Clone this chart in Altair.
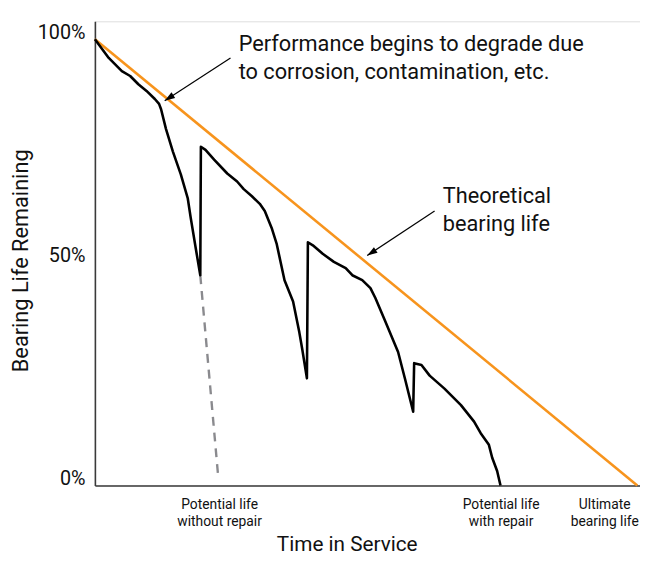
import math
import altair as alt
import pandas as pd

# ---------------- data ----------------
curve_x = [0, 2.55, 4.97, 6.5, 8.01, 9.52, 11.05, 11.83, 12.2, 13.1, 14.38, 15.84, 17.11, 17.66, 18.57, 19.43,
           19.54, 20.39, 21.98, 24.4, 26.22, 27.44, 28.95, 30.4, 31.32, 32.59, 33.5, 34.96, 36.54, 37.69, 38.23, 39.09,
           39.27, 40.18, 42.0, 44.06, 46.24, 47.46, 49.29, 50.8, 51.71, 53.53, 55.9, 57.17, 58.68,
           58.86, 60.21, 61.72, 64.45, 67.49, 69.91, 71.13, 72.64, 73.25, 74.16, 74.78]
curve_y = [100, 95.8, 92.85, 91.75, 89.9, 88.4, 86.6, 85.5, 84.3, 79.9, 74.8, 69.7, 64.4, 60.0, 53.3, 47.1,
           75.9, 75.2, 73.0, 69.9, 68.1, 66.4, 64.8, 63.1, 61.5, 57.7, 54.2, 46.0, 41.2, 34.3, 30.5, 24.0,
           54.5, 53.8, 51.9, 50.1, 48.7, 47.1, 46.0, 44.2, 42.0, 36.8, 29.9, 23.9, 16.5,
           27.4, 27.0, 24.6, 21.7, 18.0, 14.3, 11.7, 9.1, 6.2, 3.25, 0]

theory_x = [0, 100]
theory_y = [100, 0]

norepair_x = [19.43, 22.7]
norepair_y = [47.1, 2.4]

arrow_tail_x = [25.0, 62.63]
arrow_tail_y = [95.8, 61.5]
arrow_tip_x = [12.87, 50.2]
arrow_tip_y = [86.2, 51.5]

note_text = ["Performance begins to degrade due", "to corrosion, contamination, etc.",
             "Theoretical", "bearing life"]
note_x = [26.5, 26.5, 64.14, 64.14]
note_y = [97.3, 91.0, 63.3, 57.0]

x_tick_values = [22.9, 74.8, 93.9]
x_tick_labels = [["Potential life", "without repair"],
                 ["Potential life", "with repair"],
                 ["Ultimate", "bearing life"]]
y_tick_values = [0, 50, 100]

# ---------------- chart ----------------
FONT = "Roboto"
X_DOMAIN = [0, 100.5]
Y_DOMAIN = [0, 104]
W, H = 552, 470

xs = alt.Scale(domain=X_DOMAIN, nice=False, zero=False)
ys = alt.Scale(domain=Y_DOMAIN, nice=False, zero=False)

label_expr = " : ".join(
    f"datum.value < {v + 1} ? {lab!r}" for v, lab in zip(x_tick_values[:-1], x_tick_labels[:-1])
) + f" : {x_tick_labels[-1]!r}"

x_axis = alt.Axis(values=x_tick_values, labelExpr=label_expr, ticks=False, grid=False,
                  domainColor="#3a3a3a", domainWidth=1.6, labelFont=FONT, labelFontSize=14,
                  labelLineHeight=18, labelPadding=12, labelColor="#111", labelOverlap=False,
                  labelFlush=False, labelBound=False,
                  title="Time in Service", titleFont=FONT, titleFontSize=21, titleFontWeight="normal",
                  titleColor="#111", titleX=255, titleY=66, titleAlign="center",
                  titleBaseline="alphabetic")
y_axis = alt.Axis(values=y_tick_values, labelExpr="datum.value + '%'", ticks=False, grid=False,
                  domainColor="#3a3a3a", domainWidth=1.6, labelFont=FONT, labelFontSize=20,
                  labelPadding=10, labelOffset=-7, labelColor="#111",
                  title="Bearing Life Remaining", titleFont=FONT, titleFontSize=22,
                  titleFontWeight="normal", titleColor="#111", titleX=-75, titleY=242,
                  titleAlign="center", titleBaseline="middle", titleAngle=-90)

curve_df = pd.DataFrame({"x": curve_x, "y": curve_y, "o": range(len(curve_x))})
theory_df = pd.DataFrame({"x": theory_x, "y": theory_y})
norepair_df = pd.DataFrame({"x": norepair_x, "y": norepair_y})

px_x = W / (X_DOMAIN[1] - X_DOMAIN[0])
px_y = H / (Y_DOMAIN[1] - Y_DOMAIN[0])
angles = []
for tx, ty, hx, hy in zip(arrow_tail_x, arrow_tail_y, arrow_tip_x, arrow_tip_y):
    dx = (hx - tx) * px_x
    dy = -(hy - ty) * px_y
    angles.append(math.degrees(math.atan2(dx, -dy)) % 360)
arrow_df = pd.DataFrame({"x": arrow_tail_x, "y": arrow_tail_y, "x2": arrow_tip_x, "y2": arrow_tip_y})
head_df = pd.DataFrame({"x": arrow_tip_x, "y": arrow_tip_y, "a": angles})
note_df = pd.DataFrame({"t": note_text, "x": note_x, "y": note_y})

axes_layer = alt.Chart(theory_df).mark_line(color="#F7941D", strokeWidth=2.6, clip=False).encode(
    x=alt.X("x:Q", scale=xs, axis=x_axis),
    y=alt.Y("y:Q", scale=ys, axis=y_axis),
)

curve_layer = alt.Chart(curve_df).mark_line(color="#000", strokeWidth=2.6, strokeJoin="round").encode(
    x=alt.X("x:Q", scale=xs), y=alt.Y("y:Q", scale=ys), order="o:Q"
)

norepair_layer = alt.Chart(norepair_df).mark_line(color="#8a8a8e", strokeWidth=2.4,
                                                  strokeDash=[9, 7]).encode(
    x=alt.X("x:Q", scale=xs), y=alt.Y("y:Q", scale=ys)
)

arrow_layer = alt.Chart(arrow_df).mark_rule(color="#000", strokeWidth=1.2).encode(
    x=alt.X("x:Q", scale=xs), y=alt.Y("y:Q", scale=ys), x2="x2:Q", y2="y2:Q"
)

head_layer = alt.Chart(head_df).mark_point(
    shape="M0,0 L0.42,1.3 L-0.42,1.3 Z", filled=True, color="#000", opacity=1, size=256
).encode(x=alt.X("x:Q", scale=xs), y=alt.Y("y:Q", scale=ys), angle=alt.Angle("a:Q", scale=None))

note_layer = alt.Chart(note_df).mark_text(
    align="left", baseline="alphabetic", font=FONT, fontSize=22, color="#111"
).encode(x=alt.X("x:Q", scale=xs), y=alt.Y("y:Q", scale=ys), text="t:N")

chart = alt.layer(
    axes_layer, norepair_layer, curve_layer, arrow_layer, head_layer, note_layer
).properties(
    width=W, height=H,
    autosize=alt.AutoSizeParams(type="none"),
    padding={"left": 88, "top": 10, "right": 0, "bottom": 70},
).configure_view(stroke=None).configure(background="white")

chart.save("out.html", embed_options={"renderer": "svg", "actions": False})
